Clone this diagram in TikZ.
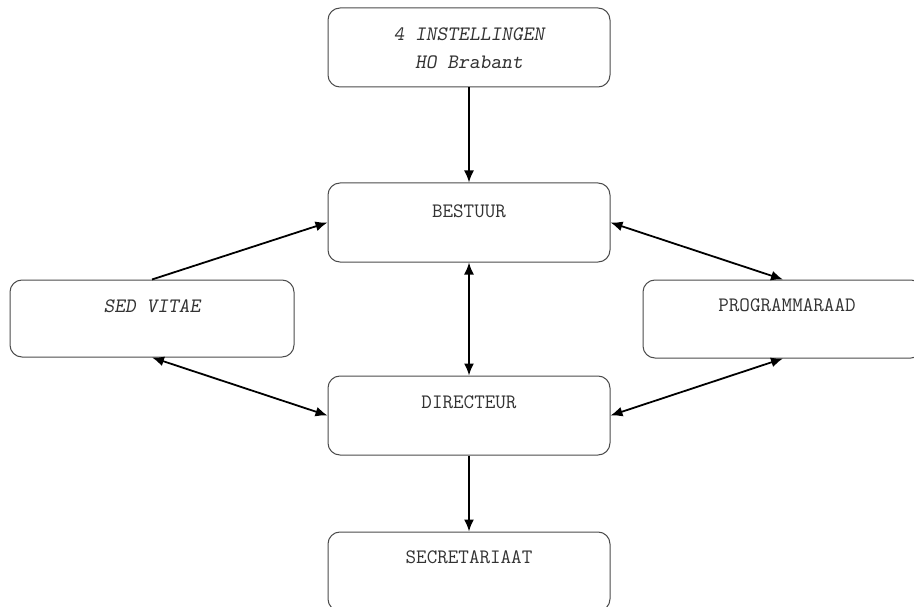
\documentclass[tikz,border=0pt]{standalone}
\usetikzlibrary{arrows.meta}
\begin{document}
\begin{tikzpicture}[x=1pt,y=-1pt,
  box/.style={draw=black!70, line width=1pt, rounded corners=12pt, fill=white, inner sep=0pt},
  lbl/.style={text=black!80, font=\ttfamily\fontsize{20.5}{24}\selectfont, inner sep=0pt},
  conn/.style={line width=1.8pt, {Latex[length=12pt,width=10pt]}-{Latex[length=12pt,width=10pt]}},
  conn1/.style={line width=1.8pt, -{Latex[length=12pt,width=10pt]}}]
\clip (0,0) rectangle (914,607);
\fill[white] (0,0) rectangle (914,607);
% boxes
\node[box, minimum width=282pt, minimum height=79pt] (inst) at (469,47.5) {};
\node[box, minimum width=282pt, minimum height=79pt] (best) at (469,222.5) {};
\node[box, minimum width=284pt, minimum height=77pt] (sed) at (152,318.5) {};
\node[box, minimum width=280pt, minimum height=78pt] (prog) at (783,319) {};
\node[box, minimum width=282pt, minimum height=79pt] (dir) at (469,415.5) {};
\node[box, minimum width=282pt, minimum height=79pt] (sec) at (469,571.5) {};
% labels
\node[lbl] (instA) at (469,34) {\slshape 4 INSTELLINGEN};
\node[lbl] (instB) at (469,62) {\slshape HO Brabant};
\node[lbl] (bestT) at (469,211) {BESTUUR};
\node[lbl] (sedT) at (152,306) {\slshape SED VITAE};
\node[lbl] (progT) at (787,305) {PROGRAMMARAAD};
\node[lbl] (dirT) at (469,402) {DIRECTEUR};
\node[lbl] (secT) at (469,557) {SECRETARIAAT};
% connectors
\draw[conn1] (inst.south) -- (best.north);
\draw[conn1] (sed.north) -- (best.west);
\draw[conn] (best.east) -- (prog.north);
\draw[conn] (best.south) -- (dir.north);
\draw[conn] (sed.south) -- (dir.west);
\draw[conn] (prog.south) -- (dir.east);
\draw[conn1] (dir.south) -- (sec.north);
\end{tikzpicture}
\end{document}
